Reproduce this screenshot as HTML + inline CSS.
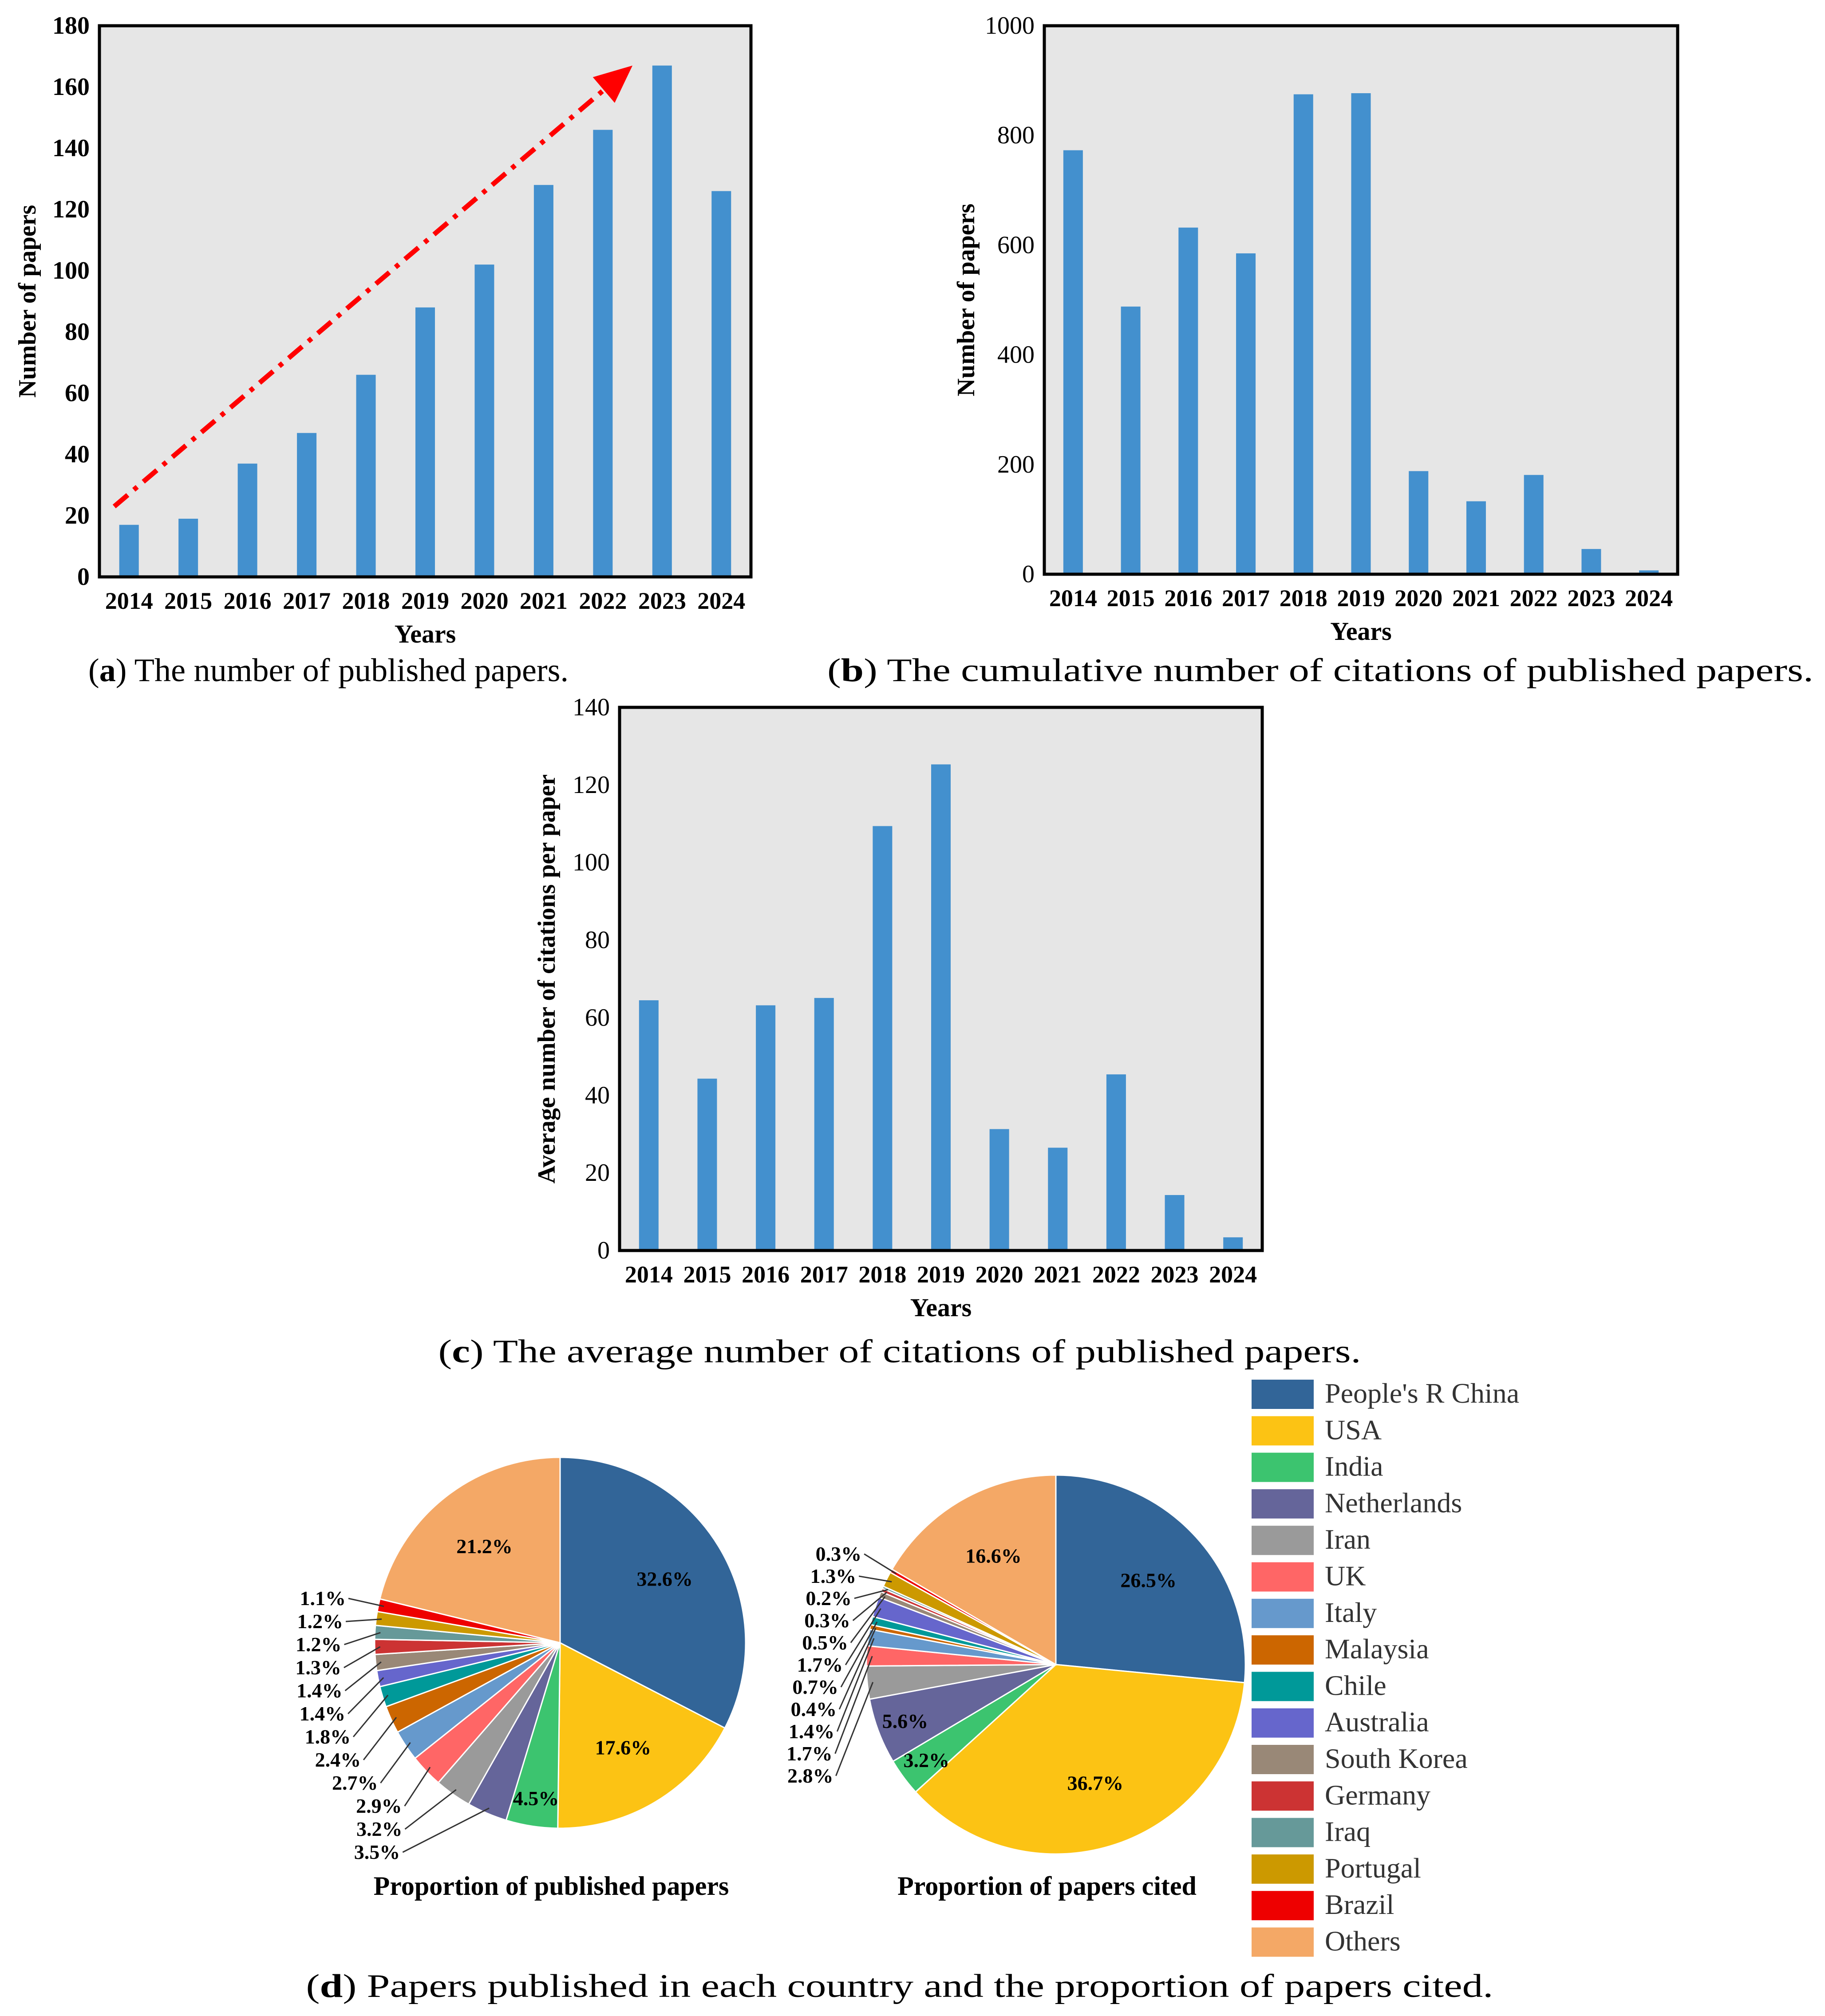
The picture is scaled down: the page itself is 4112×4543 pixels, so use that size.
<!DOCTYPE html>
<html><head><meta charset="utf-8">
<style>
html,body{margin:0;padding:0;background:#fff;}
svg{display:block;}
text{font-family:"Liberation Serif",serif;}
</style></head>
<body>
<svg id="fig" width="4112" height="4543" viewBox="0 0 4112 4543" xmlns="http://www.w3.org/2000/svg"></svg>
<script>
// ---- data ----
const years = ["2014","2015","2016","2017","2018","2019","2020","2021","2022","2023","2024"];
const papersA = [17,19,37,47,66,88,102,128,146,167,126];
const ticksA = [0,20,40,60,80,100,120,140,160,180];
const citesB = [773,488,632,585,875,877,188,133,181,46,7];
const ticksB = [0,200,400,600,800,1000];
const avgC = [64.5,44.3,63.2,65.1,109.4,125.3,31.3,26.5,45.4,14.3,3.4];
const ticksC = [0,20,40,60,80,100,120,140];
const countries = ["People's R China","USA","India","Netherlands","Iran","UK","Italy","Malaysia","Chile","Australia","South Korea","Germany","Iraq","Portugal","Brazil","Others"];
const colors = ["#326598","#fcc314","#3cc46f","#65659a","#9a9a9a","#ff6666","#6699cc","#cc6600","#009999","#6666cc","#998877","#cc3333","#669999","#cc9900","#ee0000","#f4a866"];
const sharePub = [32.6,17.6,4.5,3.5,3.2,2.9,2.7,2.4,1.8,1.4,1.4,1.3,1.2,1.2,1.1,21.2];
const shareCited = [26.5,36.7,3.2,5.6,2.8,1.7,1.4,0.4,0.7,1.7,0.5,0.3,0.2,1.3,0.3,16.6];

const NS="http://www.w3.org/2000/svg";
const svg=document.getElementById('fig');
function el(tag,attrs,parent,txt){const e=document.createElementNS(NS,tag);for(const k in attrs)e.setAttribute(k,attrs[k]);if(txt!==undefined)e.textContent=txt;(parent||svg).appendChild(e);return e;}

function barChart(o){
  const g=el('g',{});
  
  
  const W=o.x1-o.x0,H=o.y1-o.y0;
  const bw=W/years.length;
  const xs=i=>o.x0+bw*(i+0.5);
  const ys=v=>o.y1-v/o.max*H;
  const bg=el('rect',{x:o.x0,y:o.y0,width:W,height:H,fill:'#e6e6e6'},g);
  
  
  o.vals.forEach((v,i)=>{
    const r=el('rect',{x:xs(i)-22,y:ys(v),width:44,height:o.y1-ys(v),fill:'#4390ce'},g);
    
    
  });
  el('rect',{x:o.x0,y:o.y0,width:W,height:H,fill:'none',stroke:'#000','stroke-width':7},g);
  o.ticks.forEach(t=>{
    const tx=el('text',{x:o.x0-22,y:ys(t)+18,'text-anchor':'end','font-size':56,'font-weight':o.boldY?'bold':'normal'},g,String(t));
    
    
  });
  years.forEach((y,i)=>{
    const tx=el('text',{x:xs(i),y:o.y1+72,'text-anchor':'middle','font-size':54,'font-weight':'bold'},g,y);
    
    
  });
  const xt=el('text',{x:(o.x0+o.x1)/2,y:o.y1+148,'text-anchor':'middle','font-size':58,'font-weight':'bold'},g,'Years');
  
  
  const yt=el('text',{x:0,y:0,'text-anchor':'middle','font-size':56,'font-weight':'bold',transform:`translate(${o.ytx},${(o.y0+o.y1)/2}) rotate(-90)`},g,o.ytitle);
  
  
  const cap=el('text',{x:o.capx,y:o.capy,'text-anchor':'middle','font-size':74,textLength:o.capw,lengthAdjust:'spacingAndGlyphs'},g);
  
  
  el('tspan',{},cap,'(');el('tspan',{'font-weight':'bold'},cap,o.letter);el('tspan',{},cap,') '+o.cap);
  return {xs,ys,g};
}

const A=barChart({name:'chart-a',x0:224,x1:1692,y0:58,y1:1300,max:180,vals:papersA,ticks:ticksA,boldY:true,ytx:80,ytitle:'Number of papers',capx:740,capy:1535,capw:1082,letter:'a',cap:'The number of published papers.'});
const ax0=A.xs(-0.25),ay0=A.ys(23),ax1=A.xs(8.5),ay1=A.ys(167);
const ang=Math.atan2(ay1-ay0,ax1-ax0);
const hl=85,hw=38;
const bx=ax1-hl*Math.cos(ang),by=ay1-hl*Math.sin(ang);
const ln=el('line',{x1:ax0,y1:ay0,x2:bx,y2:by,stroke:'#ff0000','stroke-width':11,'stroke-dasharray':'40 18 10 18'},A.g);


const px=-Math.sin(ang),py=Math.cos(ang);
const head=el('polygon',{points:`${ax1},${ay1} ${bx+px*hw},${by+py*hw} ${bx-px*hw},${by-py*hw}`,fill:'#ff0000'},A.g);



barChart({name:'chart-b',x0:2353,x1:3780,y0:58,y1:1294,max:1000,vals:citesB,ticks:ticksB,boldY:false,ytx:2195,ytitle:'Number of papers',capx:2975,capy:1535,capw:2222,letter:'b',cap:'The cumulative number of citations of published papers.'});
barChart({name:'chart-c',x0:1396,x1:2844,y0:1594,y1:2818,max:140,vals:avgC,ticks:ticksC,boldY:false,ytx:1250,ytitle:'Average number of citations per paper',capx:2027,capy:3070,capw:2079,letter:'c',cap:'The average number of citations of published papers.'});

// ---- pies ----
function pie(o){
  const g=el('g',{});
  
  
  let a=0;
  const tot=o.vals.reduce((s,v)=>s+v,0);
  const pt=(ang,r)=>[o.cx+r*Math.sin(ang),o.cy-r*Math.cos(ang)];
  const outside=[];
  o.vals.forEach((v,i)=>{
    const a0=a/tot*2*Math.PI;a+=v;const a1=a/tot*2*Math.PI;
    const p0=pt(a0,o.r),p1=pt(a1,o.r);
    const large=(a1-a0)>Math.PI?1:0;
    const s=el('path',{d:`M${o.cx},${o.cy} L${p0[0]},${p0[1]} A${o.r},${o.r} 0 ${large} 1 ${p1[0]},${p1[1]} Z`,fill:colors[i],stroke:'#fff','stroke-width':3},g);
    
    
    const mid=(a0+a1)/2;
    if(v>=o.inside){
      const lp=pt(mid,v<8?o.r*0.85:o.r*0.66);
      const t=el('text',{x:lp[0],y:lp[1]+15,'text-anchor':'middle','font-size':46,'font-weight':'bold'},g,v.toFixed(1)+'%');
      
      
    } else outside.push({v,mid});
  });
  outside.forEach(l=>{l.e0=pt(l.mid,o.r*0.97);const p=pt(l.mid,o.r*1.18);l.x=p[0];l.y=p[1];});
  outside.sort((p,q)=>p.y-q.y);
  for(let k=1;k<outside.length;k++){if(outside[k].y<outside[k-1].y+o.gap)outside[k].y=outside[k-1].y+o.gap;}
  outside.forEach(l=>{
    const lx=Math.min(l.x,o.cx-o.r*0.75-Math.abs(l.y-o.cy)*0.1);
    el('polyline',{points:`${l.e0[0]},${l.e0[1]} ${lx+6},${l.y}`,stroke:'#333','stroke-width':3,fill:'none'},g);
    const t=el('text',{x:lx,y:l.y+15,'text-anchor':'end','font-size':46,'font-weight':'bold'},g,l.v.toFixed(1)+'%');
    
    
  });
  const tt=el('text',{x:o.cx-20,y:4270,'text-anchor':'middle','font-size':60,'font-weight':'bold'},g,o.title);
  
  
}
pie({name:'pie-published',cx:1262,cy:3702,r:418,vals:sharePub,inside:4.5,gap:52,title:'Proportion of published papers'});
pie({name:'pie-cited',cx:2379,cy:3751,r:427,vals:shareCited,inside:3.2,gap:50,title:'Proportion of papers cited'});

// legend
const lg=el('g',{});


countries.forEach((c,i)=>{
  const y=3109+i*82.3;
  const r=el('rect',{x:2820,y:y,width:140,height:66,fill:colors[i]},lg);
  
  
  const t=el('text',{x:2985,y:y+52,'font-size':64,fill:'#333'},lg,c);
  
  
});

const capd=el('text',{x:2027,y:4500,'text-anchor':'middle','font-size':74,textLength:2675,lengthAdjust:'spacingAndGlyphs'});


el('tspan',{},capd,'(');el('tspan',{'font-weight':'bold'},capd,'d');el('tspan',{},capd,') Papers published in each country and the proportion of papers cited.');
</script>
</body></html>
